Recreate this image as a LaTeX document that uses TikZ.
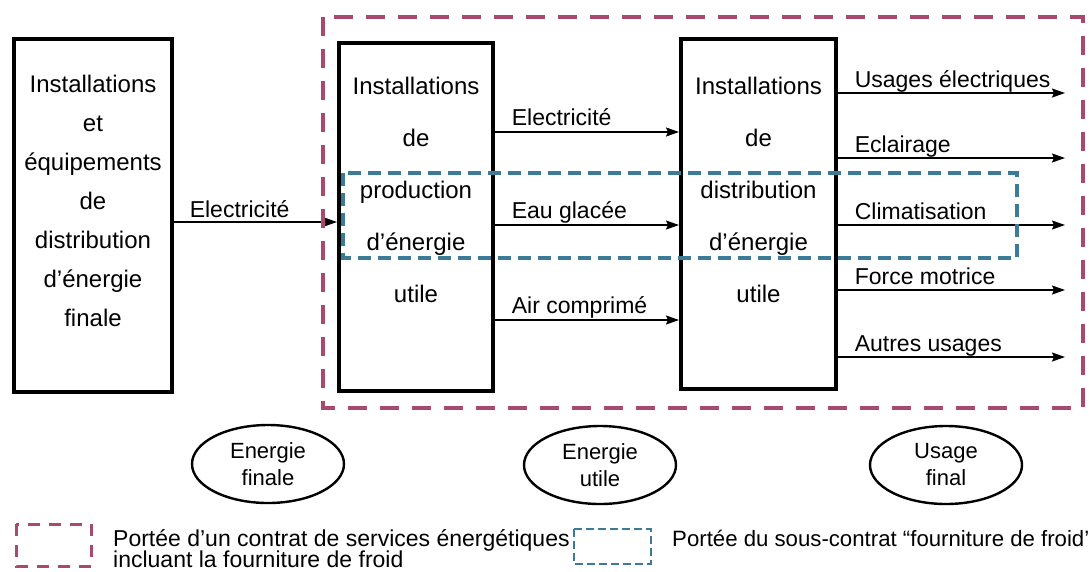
\documentclass[tikz,border=0pt]{standalone}
\usepackage{fontspec}
\setmainfont{Liberation Sans}
\usetikzlibrary{arrows.meta,shapes.geometric}
\definecolor{pinkc}{HTML}{A84A70}
\definecolor{bluec}{HTML}{3B7A98}
\begin{document}
\begin{tikzpicture}[x=1pt,y=-1pt,
  box/.style={draw, line width=4pt, inner sep=0pt, rectangle},
  boxtxt/.style={align=center, inner sep=0pt},
  lbl/.style={font=\fontsize{23}{27}\selectfont, anchor=base west, inner sep=0pt},
  arr/.style={line width=1.6pt, -{Stealth[length=13pt,width=9pt,inset=2pt]}},
  ell/.style={draw, ellipse, line width=2.4pt, inner sep=0pt, align=center,
    minimum width=152pt, minimum height=78pt, font=\fontsize{22}{27}\selectfont},
  pinkdash/.style={draw=pinkc, line width=4pt, dash pattern=on 19pt off 13pt},
  bluedash/.style={draw=bluec, line width=3.5pt, dash pattern=on 13pt off 7pt},
  legtxt/.style={font=\fontsize{23}{21}\selectfont, anchor=base west, inner sep=0pt}]
\useasboundingbox (0,0) rectangle (1091,571);

% boxes
\node[box, minimum width=158pt, minimum height=353pt] (b1) at (93,215.5) {};
\node[box, minimum width=154pt, minimum height=348pt] (b2) at (416,217) {};
\node[box, minimum width=155pt, minimum height=350pt] (b3) at (758.5,214) {};

\node[boxtxt, font=\fontsize{24}{39}\selectfont] (t1) at (93,201)
  {Installations\\et\\équipements\\de\\distribution\\d’énergie\\finale};
\node[boxtxt, font=\fontsize{24}{52}\selectfont] (t2) at (416,190)
  {Installations\\de\\production\\d’énergie\\utile};
\node[boxtxt, font=\fontsize{24}{52}\selectfont] (t3) at (758.5,190)
  {Installations\\de\\distribution\\d’énergie\\utile};

% output end points
\coordinate (o1) at (1065,93);
\coordinate (o2) at (1065,158);
\coordinate (o3) at (1065,225);
\coordinate (o4) at (1065,290);
\coordinate (o5) at (1065,357);

% arrows
\draw[arr] (b1.east |- 0,222) -- (b2.west |- 0,222)
  node[lbl, pos=0, xshift=15pt, yshift=5pt] {Electricité};
\draw[arr] (b2.east |- 0,132) -- (b3.west |- 0,132)
  node[lbl, pos=0, xshift=16pt, yshift=7pt] {Electricité};
\draw[arr] (b2.east |- 0,225) -- (b3.west |- 0,225)
  node[lbl, pos=0, xshift=16pt, yshift=7pt] {Eau glacée};
\draw[arr] (b2.east |- 0,320) -- (b3.west |- 0,320)
  node[lbl, pos=0, xshift=16pt, yshift=7pt] {Air comprimé};

\draw[arr] (b3.east |- o1) -- (o1)
  node[lbl, pos=0, xshift=16pt, yshift=6pt] {Usages électriques};
\draw[arr] (b3.east |- o2) -- (o2)
  node[lbl, pos=0, xshift=16pt, yshift=6pt] {Eclairage};
\draw[arr] (b3.east |- o3) -- (o3)
  node[lbl, pos=0, xshift=16pt, yshift=6pt] {Climatisation};
\draw[arr] (b3.east |- o4) -- (o4)
  node[lbl, pos=0, xshift=16pt, yshift=6pt] {Force motrice};
\draw[arr] (b3.east |- o5) -- (o5)
  node[lbl, pos=0, xshift=16pt, yshift=6pt] {Autres usages};

% contract scopes
\draw[pinkdash] (323,17) rectangle (1083,408);
\draw[bluedash] (343,173) rectangle (1017,258);

% ellipses
\node[ell] (e1) at (268,464) {Energie\\finale};
\node[ell] (e2) at (600,465) {Energie\\utile};
\node[ell] (e3) at (946,465) {Usage\\final};

% legend
\draw[draw=pinkc, line width=3pt, dash pattern=on 12pt off 9pt] (16,524) rectangle (91,566);
\node[legtxt] (l1) at (113,546) {Portée d’un contrat de services énergétiques};
\node[legtxt] (l2) at (113,567) {incluant la fourniture de froid};
\draw[draw=bluec, line width=2.5pt, dash pattern=on 8pt off 4pt] (574,529) rectangle (651,564);
\node[legtxt, font=\fontsize{22.2}{26}\selectfont] (l3) at (672,546) {Portée du sous-contrat “fourniture de froid’};
\end{tikzpicture}
\end{document}
